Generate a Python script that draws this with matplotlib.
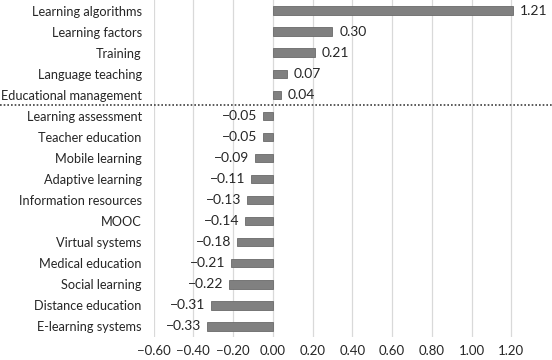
import matplotlib.pyplot as plt
from matplotlib.lines import Line2D

# dados
temas = ["Learning algorithms", "Learning factors", "Training", "Language teaching",
         "Educational management", "Learning assessment", "Teacher education",
         "Mobile learning", "Adaptive learning", "Information resources", "MOOC",
         "Virtual systems", "Medical education", "Social learning",
         "Distance education", "E-learning systems"]
valores = [1.21, 0.30, 0.21, 0.07, 0.04, -0.05, -0.05, -0.09, -0.11, -0.13,
           -0.14, -0.18, -0.21, -0.22, -0.31, -0.33]
ticks_x = [-0.60, -0.40, -0.20, 0.00, 0.20, 0.40, 0.60, 0.80, 1.00, 1.20]

plt.rcParams['font.family'] = ['Lato', 'DejaVu Sans']

fig = plt.figure(figsize=(5.52, 3.6), dpi=100)
ax = fig.add_axes([153.6 / 552, 23 / 360, (551 - 153.6) / 552, 337 / 360])

pos = list(range(len(temas)))
ax.barh(pos, valores, height=0.4, color='#808080', edgecolor='#6a6a6a', linewidth=0.6, zorder=3)

for y, v in zip(pos, valores):
    txt = f"{abs(v):.2f}"
    if v >= 0:
        ax.text(v + 0.035, y, txt, va='center', ha='left', fontsize=10, color='#262626')
    else:
        ax.text(v - 0.03, y, "\u2212" + txt, va='center', ha='right', fontsize=10, color='#262626')

ax.set_xlim(-0.6, 1.4)
ax.set_ylim(len(temas) - 0.5, -0.5)
ax.set_yticks(pos)
ax.set_yticklabels(temas, fontsize=9.2, color='#262626')
ax.set_xticks(ticks_x)
ax.set_xticklabels([("\u2212" if t < 0 else "") + f"{abs(t):.2f}" for t in ticks_x],
                   fontsize=9.5, color='#262626')
ax.tick_params(axis='both', length=0)
ax.tick_params(axis='y', pad=8.5)
ax.tick_params(axis='x', pad=6)
ax.grid(axis='x', color='#d9d9d9', linewidth=0.9, zorder=0)
for s in ax.spines.values():
    s.set_visible(False)

# linha pontilhada separando positivos e negativos
fig.add_artist(Line2D([0, 1], [1 - 105 / 360, 1 - 105 / 360], color='#404040',
                      linestyle=(0, (1, 1.2)), linewidth=1.2, transform=fig.transFigure))

plt.savefig('out.png', dpi=100)
